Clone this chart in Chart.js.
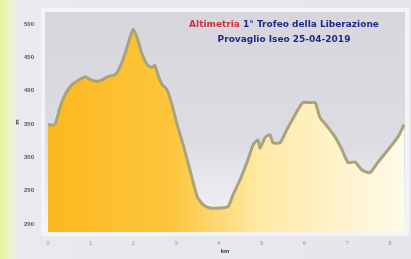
<!DOCTYPE html>
<html>
<head>
<meta charset="utf-8">
<script src="https://cdn.jsdelivr.net/npm/chart.js@4.4.0/dist/chart.umd.min.js"></script>
<style>
  html, body { margin: 0; padding: 0; }
  body {
    width: 411px; height: 259px; overflow: hidden;
    background: linear-gradient(90deg, #e4f0a0 0px, #eef4c8 10px, #e9e9ee 18px, #e6e6ea 100%);
  }
  canvas { display: block; }
</style>
</head>
<body>
<canvas id="altChart" width="411" height="259"></canvas>
<script>
// distance (km) and elevation (m)
const km = [0, 0.16, 0.28, 0.40, 0.56, 0.75, 0.87, 0.98, 1.15, 1.29, 1.40, 1.57, 1.68, 1.80, 1.92, 1.99,
            2.08, 2.20, 2.32, 2.43, 2.50, 2.57, 2.67, 2.78, 2.90, 3.02, 3.16, 3.32, 3.49, 3.63, 3.79,
            4.02, 4.21, 4.33, 4.49, 4.65, 4.80, 4.91, 4.96, 5.08, 5.19, 5.26, 5.43, 5.59, 5.78, 5.96,
            6.13, 6.25, 6.36, 6.55, 6.71, 6.88, 7.02, 7.18, 7.34, 7.53, 7.72, 7.95, 8.19, 8.33];
const elevation = [349, 349, 375, 394, 409, 417, 421, 417, 414, 417, 421, 424, 435, 455, 480, 492,
                   480, 455, 439, 435, 438, 424, 409, 402, 379, 349, 319, 281, 241, 229, 224,
                   224, 226, 244, 266, 292, 319, 326, 314, 330, 334, 322, 322, 342, 364, 382,
                   382, 382, 360, 345, 331, 311, 292, 293, 281, 277, 293, 311, 331, 349];
const kmTicks = [0, 1, 2, 3, 4, 5, 6, 7, 8];
const mTicks = [200, 250, 300, 350, 400, 450, 500];
const titleLine1 = ['Altimetria', '1° Trofeo della Liberazione'];
const titleLine2 = 'Provaglio Iseo 25-04-2019';

const plotBg = {
  id: 'plotBg',
  beforeDraw(chart) {
    const { ctx, chartArea: a } = chart;
    const g = ctx.createLinearGradient(0, a.top, 0, a.bottom);
    g.addColorStop(0, '#d7d6dc');
    g.addColorStop(0.6, '#dddce2');
    g.addColorStop(1, '#f6f6f8');
    ctx.save();
    ctx.fillStyle = '#f4f4f6';
    ctx.fillRect(a.left - 4, a.top - 4, a.right - a.left + 8, a.bottom - a.top + 8);
    ctx.fillStyle = g;
    ctx.fillRect(a.left, a.top, a.right - a.left, a.bottom - a.top);
    ctx.restore();
  }
};

const titlePlugin = {
  id: 'titlePlugin',
  afterDraw(chart) {
    const { ctx } = chart;
    ctx.save();
    ctx.font = 'bold 9px "DejaVu Sans"';
    ctx.textBaseline = 'middle';
    const w1 = ctx.measureText(titleLine1[0] + ' ').width;
    const w2 = ctx.measureText(titleLine1[1]).width;
    const x = 284 - (w1 + w2) / 2;
    ctx.fillStyle = '#d0303a';
    ctx.fillText(titleLine1[0], x, 25);
    ctx.fillStyle = '#1c2a8c';
    ctx.fillText(titleLine1[1], x + w1, 25);
    ctx.textAlign = 'center';
    ctx.fillText(titleLine2, 284, 40);
    ctx.restore();
  }
};

const ctx = document.getElementById('altChart').getContext('2d');
new Chart(ctx, {
  type: 'line',
  data: {
    datasets: [{
      data: km.map((k, i) => ({ x: k, y: elevation[i] })),
      borderColor: '#a8a47a',
      borderWidth: 3,
      pointRadius: 0,
      tension: 0.2,
      fill: 'start',
      backgroundColor: (c) => {
        const a = c.chart.chartArea;
        if (!a) return '#fcc43a';
        const g = c.chart.ctx.createLinearGradient(a.left, 0, a.right, 0);
        g.addColorStop(0, '#fcb81e');
        g.addColorStop(0.35, '#fdc53c');
        g.addColorStop(0.6, '#feeaa6');
        g.addColorStop(1, '#fffaea');
        return g;
      }
    }]
  },
  options: {
    responsive: false,
    animation: false,
    devicePixelRatio: 1,
    layout: { padding: { left: 14, top: 12, right: 6, bottom: 4 } },
    plugins: { legend: { display: false }, tooltip: { enabled: false } },
    scales: {
      x: {
        type: 'linear',
        min: -0.07, max: 8.35,
        afterBuildTicks: (s) => { s.ticks = kmTicks.map(v => ({ value: v })); },
        ticks: { color: '#9a9aa8', font: { size: 6 }, padding: 0 },
        grid: { display: false },
        border: { display: false },
        title: { display: true, text: 'km', color: '#333', font: { size: 6, weight: 'bold' }, padding: 0 },
        afterFit: (s) => { s.height = 23; }
      },
      y: {
        min: 188, max: 518,
        afterBuildTicks: (s) => { s.ticks = mTicks.map(v => ({ value: v })); },
        ticks: { color: '#555', font: { size: 6, weight: 'bold' }, padding: 3 },
        grid: { display: false },
        border: { display: false },
        title: { display: true, text: 'm', color: '#333', font: { size: 6, weight: 'bold' }, padding: 0 },
        afterFit: (s) => { s.width = 31; }
      }
    }
  },
  plugins: [plotBg, titlePlugin]
});
</script>
</body>
</html>
